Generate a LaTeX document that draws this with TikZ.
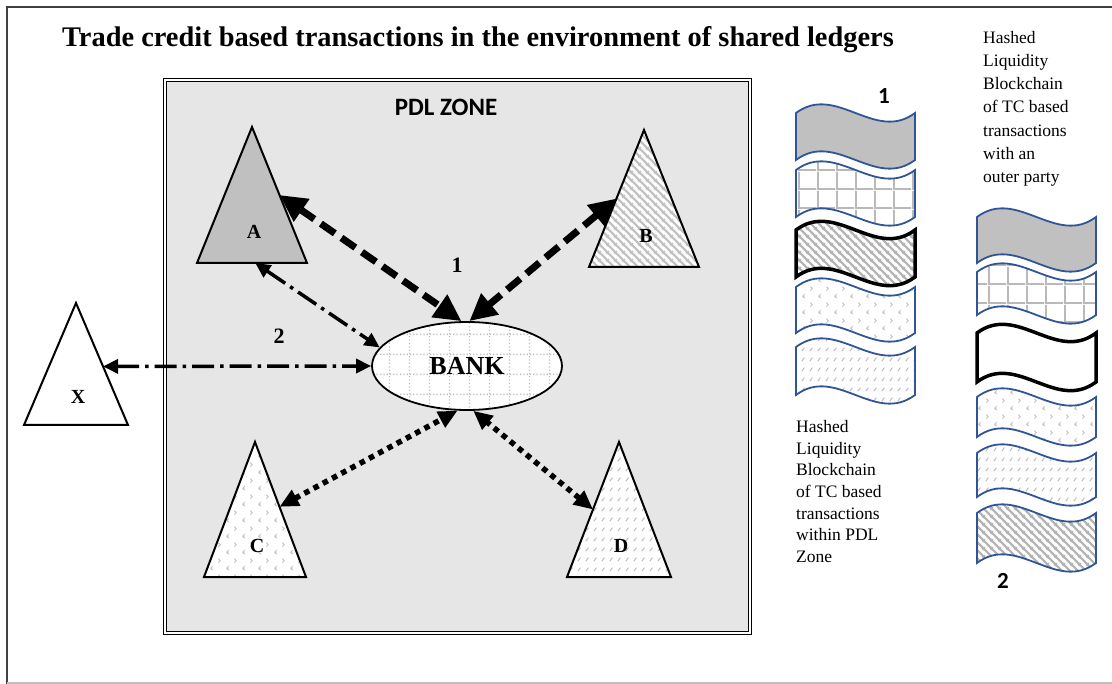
\documentclass[tikz,border=0pt]{standalone}
\usepackage{fontspec}
\setmainfont{Liberation Serif}
\newfontfamily\calibri{Carlito}
\usepackage{xcolor}
\usetikzlibrary{arrows.meta,shapes.geometric,patterns.meta,calc}

\definecolor{zonegray}{HTML}{E6E6E6}
\definecolor{partygray}{HTML}{C0C0C0}
\definecolor{ledgerblue}{HTML}{2F5597}

\tikzdeclarepattern{name=ledgergrid, type=uncolored,
  bottom left={(0pt,0pt)}, top right={(19pt,19pt)}, tile size={(19pt,19pt)},
  code={\draw[line width=2pt] (1pt,0pt) -- (1pt,19pt) (0pt,1pt) -- (19pt,1pt);}}
\tikzdeclarepattern{name=hatchstripes, type=uncolored,
  bottom left={(0pt,0pt)}, top right={(8pt,8pt)}, tile size={(8pt,8pt)},
  code={\draw[line width=2.4pt] (-1pt,9pt) -- (9pt,-1pt) (-1pt,1pt) -- (1pt,-1pt) (7pt,9pt) -- (9pt,7pt);}}
\tikzdeclarepattern{name=chevrons, type=uncolored,
  bottom left={(0pt,0pt)}, top right={(16pt,16pt)}, tile size={(16pt,16pt)},
  code={\draw[line width=1pt] (5pt,2pt) -- (3pt,4pt) -- (5pt,6pt) (11pt,10pt) -- (13pt,12pt) -- (11pt,14pt);}}
\tikzdeclarepattern{name=slashes, type=uncolored,
  bottom left={(0pt,0pt)}, top right={(8pt,10pt)}, tile size={(8pt,10pt)},
  code={\draw[line width=1.1pt] (2pt,3pt) -- (5pt,7pt);}}
\tikzdeclarepattern{name=bankgrid, type=uncolored,
  bottom left={(0pt,0pt)}, top right={(20pt,20pt)}, tile size={(20pt,20pt)},
  code={\draw[line width=1.4pt, dash pattern=on 1.4pt off 2pt] (10pt,0pt) -- (10pt,20pt) (0pt,10pt) -- (20pt,10pt);}}

% one block of a ledger: left x, top y, bottom y, style
\newcommand{\ledger}[4]{%
  \draw[#4] (#1,#2) .. controls +(40,-30) and +(-40,30) .. (#1+119,#2) -- (#1+119,#3)
    .. controls +(-40,30) and +(40,-30) .. (#1,#3) -- cycle;
}
% a party: name, apex x, apex y, half base, height, fill
\newcommand{\party}[6]{%
  \coordinate (#1-t) at (#2,#3);
  \coordinate (#1-l) at (#2-#4,#3+#5);
  \coordinate (#1-r) at (#2+#4,#3+#5);
  \draw[partytri,#6] (#1-t) -- (#1-r) -- (#1-l) -- cycle;
  \node[letter] (#1) at (#2+2,#3+0.77*#5) {#1};
}

\begin{document}
\begin{tikzpicture}[x=1pt,y=-1pt,
    partytri/.style={draw, line width=2pt, line join=miter},
    letter/.style={font=\bfseries\fontsize{20}{22}\selectfont},
    number/.style={font=\bfseries\fontsize{22}{24}\selectfont},
    blocknum/.style={font=\calibri\bfseries\fontsize{23}{25}\selectfont},
    note/.style={align=left, anchor=north west, inner sep=0pt, font=\fontsize{17.5}{#1}\selectfont},
    ledgerblock/.style={draw=ledgerblue, line width=1.8pt},
    keyblock/.style={draw=black, line width=3.5pt},
    whitepat/.style={preaction={fill=white}, pattern=#1, pattern color=gray!50},
    link1/.style={line width=7pt, dash pattern=on 17pt off 8pt, <->, >={Triangle[length=27pt,width=26pt]}},
    link2/.style={line width=3.5pt, dash pattern=on 22pt off 6pt on 3.5pt off 6pt, <->, >={Triangle[length=15pt,width=14pt]}},
    link3/.style={line width=5.5pt, dash pattern=on 5.5pt off 5pt, <->, >={Triangle[length=19pt,width=17pt]}}]
  \useasboundingbox (0,0) rectangle (1112,684);
  \draw[line width=1.5pt, black!75] (7,684) -- (7,7) -- (1112,7);
  \draw[line width=1.5pt, gray!50] (7,683) -- (1112,683);

  \node[font=\bfseries\fontsize{28.4}{30}\selectfont] (title) at (478,40) {Trade credit based transactions in the environment of shared ledgers};

  % PDL zone
  \draw[double, double distance=2.5pt, line width=1pt, fill=zonegray] (165,80) rectangle (750,633);
  \node[font=\calibri\bfseries\fontsize{25}{27}\selectfont] (zone) at (446,107) {PDL ZONE};

  \party{A}{252}{127}{55}{136}{fill=partygray}
  \party{B}{644}{130}{55}{137}{whitepat=hatchstripes}
  \party{X}{76}{303}{52}{122}{fill=white}
  \party{C}{255}{442}{51}{135}{whitepat=chevrons}
  \party{D}{619}{442}{52}{135}{whitepat=slashes}

  \node[ellipse, draw, line width=1.8pt, minimum width=190pt, minimum height=88pt, whitepat=bankgrid,
    font=\bfseries\fontsize{26}{28}\selectfont] (bank) at (467,366) {BANK};

  \draw[link1] ($(A-t)!0.5!(A-r)$) -- (bank.97);
  \draw[link1] ($(B-t)!0.5!(B-l)$) -- (bank.87);
  \draw[link2] ($(A-l)!0.53!(A-r)$) -- (bank.168);
  \draw[link2] ($(X-t)!0.52!(X-r)$) -- (bank.west);
  \draw[link3] ($(C-t)!0.48!(C-r)$) -- (bank.258);
  \draw[link3] ($(D-t)!0.5!(D-l)$) -- (bank.278);

  \node[number] (n1) at (457,265) {1};
  \node[number] (n2) at (279,336) {2};

  % ledger within the zone
  \ledger{796}{113}{160}{ledgerblock, fill=partygray}
  \ledger{796}{170}{217}{ledgerblock, pattern=ledgergrid, pattern color=gray!55}
  \ledger{796}{230}{277}{keyblock, pattern=hatchstripes, pattern color=gray!60}
  \ledger{796}{287}{333}{ledgerblock, pattern=chevrons, pattern color=gray!50}
  \ledger{796}{347}{395}{ledgerblock, pattern=slashes, pattern color=gray!50}
  \node[blocknum] (l1) at (884,96) {1};
  \node[note=21.7] (t1) at (796,420) {Hashed\\Liquidity\\Blockchain\\of TC based\\transactions\\within PDL\\Zone};

  % ledger with the outer party
  \ledger{977}{217}{263}{ledgerblock, fill=partygray}
  \ledger{977}{272}{315}{ledgerblock, pattern=ledgergrid, pattern color=gray!55}
  \ledger{977}{333}{382}{keyblock, fill=white}
  \ledger{977}{397}{437}{ledgerblock, pattern=chevrons, pattern color=gray!50}
  \ledger{977}{453}{497}{ledgerblock, pattern=slashes, pattern color=gray!50}
  \ledger{977}{513}{563}{ledgerblock, pattern=hatchstripes, pattern color=gray!60}
  \node[blocknum] (l2) at (1003,581) {2};
  \node[note=23.2] (t2) at (983,31) {Hashed\\Liquidity\\Blockchain\\of TC based\\transactions\\with an\\outer party};
\end{tikzpicture}
\end{document}
